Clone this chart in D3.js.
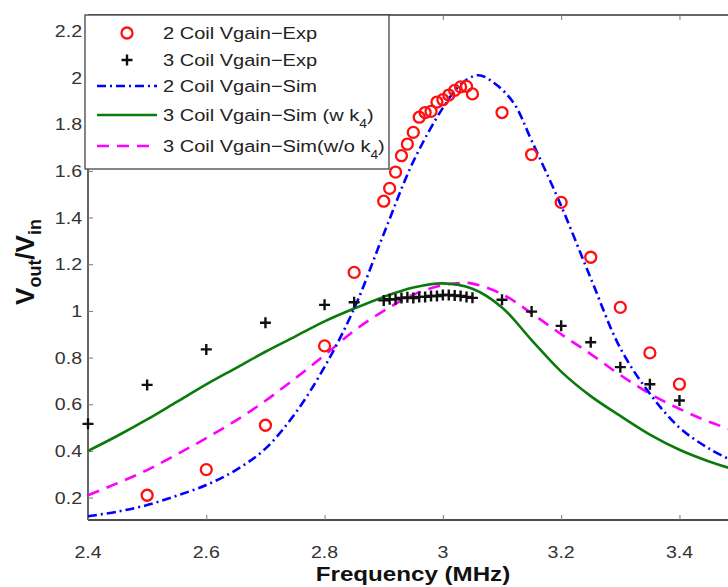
<!DOCTYPE html>
<html><head><meta charset="utf-8">
<script src="https://cdn.jsdelivr.net/npm/d3@7"></script>
<style>body{margin:0;background:#fff}svg{display:block}text{font-family:"Liberation Sans",Arial,sans-serif}</style>
</head><body><svg id="c" width="728" height="587"></svg>
<script>
// ---- data ----
const xTicks = [2.4, 2.6, 2.8, 3.0, 3.2, 3.4];
const yTicks = [0.2, 0.4, 0.6, 0.8, 1.0, 1.2, 1.4, 1.6, 1.8, 2.0, 2.2];
const exp2X = [2.5, 2.6, 2.7, 2.8, 2.85, 2.9, 2.91, 2.92, 2.93, 2.94, 2.95, 2.96, 2.97, 2.98, 2.99, 3.0, 3.01, 3.02, 3.03, 3.04, 3.05, 3.1, 3.15, 3.2, 3.25, 3.3, 3.35, 3.4];
const exp2Y = [0.21, 0.32, 0.51, 0.85, 1.165, 1.47, 1.525, 1.595, 1.665, 1.715, 1.765, 1.83, 1.85, 1.855, 1.895, 1.905, 1.925, 1.945, 1.96, 1.962, 1.93, 1.85, 1.67, 1.465, 1.23, 1.015, 0.82, 0.686];
const exp3X = [2.4, 2.5, 2.6, 2.7, 2.8, 2.85, 2.9, 2.91, 2.92, 2.93, 2.94, 2.95, 2.96, 2.97, 2.98, 2.99, 3.0, 3.01, 3.02, 3.03, 3.04, 3.05, 3.1, 3.15, 3.2, 3.25, 3.3, 3.35, 3.4];
const exp3Y = [0.516, 0.683, 0.835, 0.949, 1.026, 1.037, 1.045, 1.05, 1.05, 1.055, 1.058, 1.055, 1.06, 1.06, 1.064, 1.064, 1.068, 1.068, 1.066, 1.064, 1.06, 1.056, 1.048, 0.997, 0.936, 0.866, 0.759, 0.686, 0.616];
const sim2X = [2.4, 2.45, 2.5, 2.55, 2.6, 2.65, 2.7, 2.75, 2.8, 2.85, 2.9, 2.95, 3.0, 3.03, 3.06, 3.09, 3.12, 3.15, 3.2, 3.25, 3.3, 3.35, 3.4, 3.45, 3.5];
const sim2Y = [0.12, 0.14, 0.168, 0.208, 0.254, 0.318, 0.41, 0.56, 0.76, 1.01, 1.33, 1.64, 1.87, 1.97, 2.01, 1.97, 1.89, 1.73, 1.45, 1.14, 0.84, 0.645, 0.5, 0.41, 0.345];
const sim3wX = [2.4, 2.45, 2.5, 2.55, 2.6, 2.65, 2.7, 2.75, 2.8, 2.85, 2.9, 2.95, 3.0, 3.05, 3.1, 3.15, 3.2, 3.25, 3.3, 3.35, 3.4, 3.45, 3.5];
const sim3wY = [0.4, 0.465, 0.535, 0.61, 0.685, 0.755, 0.825, 0.89, 0.955, 1.01, 1.06, 1.1, 1.118, 1.095, 1.015, 0.875, 0.74, 0.635, 0.55, 0.47, 0.405, 0.355, 0.315];
const sim3woX = [2.4, 2.45, 2.5, 2.55, 2.6, 2.65, 2.7, 2.75, 2.8, 2.85, 2.9, 2.95, 3.0, 3.03, 3.05, 3.1, 3.15, 3.2, 3.25, 3.3, 3.35, 3.4, 3.45, 3.5];
const sim3woY = [0.21, 0.262, 0.318, 0.385, 0.455, 0.53, 0.615, 0.71, 0.81, 0.915, 1.0, 1.07, 1.11, 1.12, 1.117, 1.072, 0.99, 0.9, 0.815, 0.725, 0.645, 0.58, 0.525, 0.48];
const legendLabels = ["2 Coil Vgain\u2212Exp", "3 Coil Vgain\u2212Exp", "2 Coil Vgain\u2212Sim", "3 Coil Vgain\u2212Sim (w k", "3 Coil Vgain\u2212Sim(w/o k"];

// ---- layout ----
const svg = d3.select("#c");
const L = 88, T = 15, B = 520, R = 738.6;
const x = d3.scaleLinear().domain([2.4, 3.5]).range([L, R]);
const y = d3.scaleLinear().domain([0.104, 2.268]).range([B, T]);
const SX = 1.15;

svg.append("defs").append("clipPath").attr("id", "clip")
  .append("rect").attr("x", L).attr("y", T).attr("width", R - L).attr("height", B - T);

// axes frame
svg.append("line").attr("x1", L).attr("x2", L).attr("y1", T).attr("y2", B).attr("stroke", "#111").attr("stroke-width", 1.3);
svg.append("line").attr("x1", L).attr("x2", 728).attr("y1", B).attr("y2", B).attr("stroke", "#111").attr("stroke-width", 1.3);
svg.append("line").attr("x1", L).attr("x2", 728).attr("y1", T).attr("y2", T).attr("stroke", "#333").attr("stroke-width", 1.3);

// ticks via d3 axes
const xb = svg.append("g").attr("transform", `translate(0,${B})`)
  .call(d3.axisBottom(x).tickValues(xTicks).tickSizeInner(-5).tickSizeOuter(0).tickFormat(""));
const xt = svg.append("g").attr("transform", `translate(0,${T})`)
  .call(d3.axisTop(x).tickValues(xTicks).tickSizeInner(-5).tickSizeOuter(0).tickFormat(""));
const yl = svg.append("g").attr("transform", `translate(${L},0)`)
  .call(d3.axisLeft(y).tickValues(yTicks).tickSizeInner(-5).tickSizeOuter(0).tickFormat(""));
[xb, xt, yl].forEach(g => { g.select(".domain").remove(); g.selectAll(".tick line").attr("stroke", "#777").attr("stroke-width", 1); });

// tick labels
xTicks.forEach(v => {
  svg.append("g").attr("transform", `translate(${x(v)},558) scale(${SX},1)`)
    .append("text").attr("text-anchor", "middle").attr("font-size", 17).attr("fill", "#333").text(d3.format("~g")(v));
});
yTicks.forEach(v => {
  svg.append("g").attr("transform", `translate(82,${y(v) + 6}) scale(${SX},1)`)
    .append("text").attr("text-anchor", "end").attr("font-size", 17).attr("fill", "#333").text(d3.format("~g")(v));
});

// axis titles
svg.append("g").attr("transform", `translate(413,581) scale(${SX},1)`)
  .append("text").attr("text-anchor", "middle").attr("font-size", 21).attr("font-weight", "bold").attr("fill", "#111")
  .text("Frequency (MHz)");
const yt = svg.append("text").attr("transform", "translate(34,262) rotate(-90)").attr("text-anchor", "middle")
  .attr("font-size", 26).attr("font-weight", "bold").attr("fill", "#111");
yt.append("tspan").text("V");
yt.append("tspan").attr("font-size", 18).attr("dy", 7).text("out");
yt.append("tspan").attr("dy", -7).text("/V");
yt.append("tspan").attr("font-size", 18).attr("dy", 7).text("in");

// curves
const plot = svg.append("g").attr("clip-path", "url(#clip)");
const lineGen = d3.line().x(d => x(d[0])).y(d => y(d[1])).curve(d3.curveCatmullRom.alpha(0.5));
const zip = (a, b) => a.map((v, i) => [v, b[i]]);
const styles = [
  {xs: sim3woX, ys: sim3woY, color: "#ff00ff", dash: "12,8"},
  {xs: sim3wX, ys: sim3wY, color: "#0b7a0b", dash: null},
  {xs: sim2X, ys: sim2Y, color: "#0000ff", dash: "9,4,2,4"}
];
styles.forEach(s => {
  plot.append("path").datum(zip(s.xs, s.ys)).attr("d", lineGen).attr("fill", "none")
    .attr("stroke", s.color).attr("stroke-width", 2.6).attr("stroke-dasharray", s.dash);
});

// markers
svg.append("g").selectAll("circle").data(zip(exp2X, exp2Y)).join("circle")
  .attr("cx", d => x(d[0])).attr("cy", d => y(d[1])).attr("r", 5.5)
  .attr("fill", "none").attr("stroke", "#ff1010").attr("stroke-width", 2.3);
const plusPath = (cx, cy, s) => `M${cx - s},${cy}H${cx + s}M${cx},${cy - s}V${cy + s}`;
svg.append("g").selectAll("path").data(zip(exp3X, exp3Y)).join("path")
  .attr("d", d => plusPath(x(d[0]), y(d[1]), 5.5)).attr("stroke", "#111").attr("stroke-width", 2.4).attr("fill", "none");

// legend
const lg = svg.append("g");
lg.append("rect").attr("x", 85).attr("y", 15).attr("width", 304).attr("height", 154)
  .attr("fill", "#fff").attr("stroke", "#444").attr("stroke-width", 1.3);
const rowsY = [33, 60, 86, 115, 146];
lg.append("circle").attr("cx", 127).attr("cy", rowsY[0]).attr("r", 5.5).attr("fill", "none").attr("stroke", "#ff1010").attr("stroke-width", 2.3);
lg.append("path").attr("d", plusPath(127, rowsY[1], 5.5)).attr("stroke", "#111").attr("stroke-width", 2.4);
[[2, "#0000ff", "9,4,2,4"], [3, "#0b7a0b", null], [4, "#ff00ff", "12,8"]].forEach(([i, c, d]) => {
  lg.append("line").attr("x1", 97).attr("x2", 157).attr("y1", rowsY[i]).attr("y2", rowsY[i])
    .attr("stroke", c).attr("stroke-width", 2.6).attr("stroke-dasharray", d);
});
legendLabels.forEach((t, i) => {
  const tx = lg.append("g").attr("transform", `translate(163,${rowsY[i] + 6}) scale(${SX},1)`)
    .append("text").attr("font-size", 17.4).attr("fill", "#222");
  tx.append("tspan").text(t);
  if (i >= 3) {
    tx.append("tspan").attr("font-size", 12).attr("dy", 7).text("4");
    tx.append("tspan").attr("dy", -7).text(")");
  }
});
</script></body></html>
